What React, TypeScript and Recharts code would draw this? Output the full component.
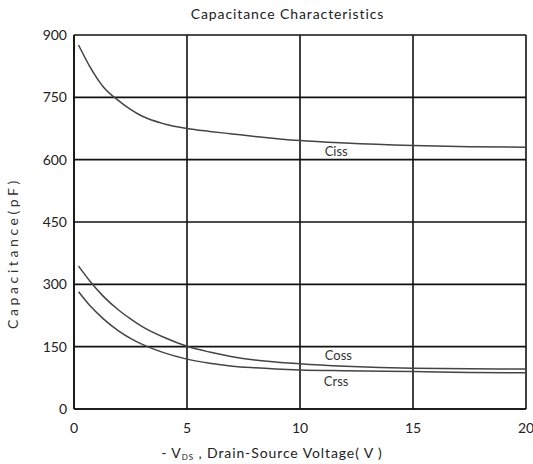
import { LineChart, Line, XAxis, YAxis, CartesianGrid, ReferenceDot } from 'recharts';

const voltage = [0.2, 0.7, 1.3, 2, 2.5, 3, 4, 5, 6, 7, 8, 10, 12, 15, 17.5, 20];
const ciss = [876, 824, 775, 741, 721, 705, 686, 675, 668, 662, 656, 646, 640, 634, 631, 630];
const coss = [344, 308, 271, 237, 217, 199, 172, 151, 137, 126, 118, 109, 103, 98, 97, 96];
const crss = [282, 249, 217, 187, 170, 156, 135, 120, 110, 103, 99, 94, 92, 90, 88, 87];

const xTicks = [0, 5, 10, 15, 20];
const yTicks = [0, 150, 300, 450, 600, 750, 900];

// curve name tags: [name, x, y]
const curveTags: [string, number, number][] = [
  ['Ciss', 11.6, 621],
  ['Coss', 11.7, 128],
  ['Crss', 11.6, 67],
];

const data = voltage.map((v, i) => ({ v, ciss: ciss[i], coss: coss[i], crss: crss[i] }));

const font = 'Lato, "Open Sans", sans-serif';

const XLabel = () => (
  <text x={272} y={458} textAnchor="middle" fontSize={14} letterSpacing={0.9} fill="#222" fontFamily={font}>
    - V<tspan fontSize={8} dy={2}>DS</tspan>
    <tspan dy={-2}> , Drain-Source Voltage( V )</tspan>
  </text>
);

const YLabel = () => (
  <text x={18} y={253} textAnchor="middle" fontSize={14} letterSpacing={3.6} fill="#333" fontFamily={font} transform="rotate(-90 18 253)">
    Capacitance(pF)
  </text>
);

const App = () => {
  return (
    <div style={{ position: 'absolute', left: 0, top: 0, width: 533, height: 464, background: '#fff' }}>
      <div style={{ position: 'absolute', left: 0, width: 575, top: 5, textAlign: 'center', fontFamily: font, fontSize: 14, letterSpacing: 0.9, color: '#222' }}>
        Capacitance Characteristics
      </div>
      <LineChart width={533} height={464} data={data} margin={{ top: 35, right: 7, bottom: 25, left: 14 }}>
        <CartesianGrid stroke="#111" strokeWidth={1.6} />
        <XAxis
          dataKey="v"
          type="number"
          domain={[0, 20]}
          ticks={xTicks}
          tickLine={false}
          tickSize={0}
          tickMargin={14}
          axisLine={{ stroke: '#111', strokeWidth: 1.6 }}
          tick={{ fill: '#222', fontSize: 14, fontFamily: font }}
          height={30}
          label={<XLabel />}
        />
        <YAxis
          type="number"
          domain={[0, 900]}
          ticks={yTicks}
          tickLine={false}
          tickSize={0}
          tickMargin={7}
          axisLine={{ stroke: '#111', strokeWidth: 1.6 }}
          tick={{ fill: '#222', fontSize: 14, fontFamily: font }}
          width={60}
          label={<YLabel />}
        />
        <Line dataKey="ciss" type="monotone" stroke="#444" strokeWidth={1.5} dot={false} isAnimationActive={false} />
        <Line dataKey="coss" type="monotone" stroke="#444" strokeWidth={1.5} dot={false} isAnimationActive={false} />
        <Line dataKey="crss" type="monotone" stroke="#444" strokeWidth={1.5} dot={false} isAnimationActive={false} />
        {curveTags.map(([name, x, y]) => (
          <ReferenceDot
            key={name}
            x={x}
            y={y}
            r={0}
            stroke="none"
            label={{ value: name, position: 'center', fontSize: 13, fill: '#333', fontFamily: font }}
          />
        ))}
      </LineChart>
    </div>
  );
};

export default App;
